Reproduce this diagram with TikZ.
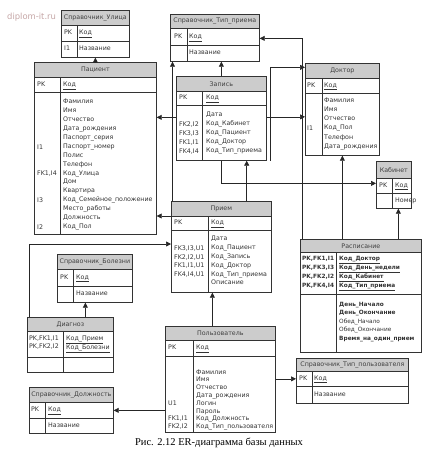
\documentclass[tikz,border=0pt]{standalone}
\usepackage{fontspec}
\setmainfont{Liberation Serif}
\newfontfamily\erfont{DejaVu Sans}
\usetikzlibrary{arrows.meta}
\newcommand{\erf}[1]{\erfont\fontsize{6.3}{#1}\selectfont}
\newcommand{\erb}[1]{\erfont\fontsize{5.8}{#1}\selectfont}
\newcommand{\er}{\erf{8.9}}
\tikzset{
  ent/.style={draw=black!80, line width=0.7pt, anchor=north west, inner sep=0pt, font=\er, text=black!75},
  hdr/.style={ent, fill=black!20},
  sep/.style={draw=black!80, line width=0.7pt},
  lbl/.style={anchor=west, inner sep=0pt, font=\er, text=black!80, text height=4.6pt, text depth=1.6pt},
  lst/.style={anchor=north west, inner sep=0pt, font=\er, text=black!80, align=left, execute at begin node=\strut},
  fk/.style={draw=black!85, line width=0.7pt, -{Triangle[length=5pt,width=5pt]}}
}
\begin{document}
\begin{tikzpicture}[x=1pt, y=-1pt]
\useasboundingbox (0,0) rectangle (437,460);
\node[text=red!35!black!35, font=\erfont\fontsize{8.4}{10}\selectfont, anchor=west, inner sep=0pt] (wm) at (7,17) {diplom-it.ru};

\node[hdr, minimum width=68, minimum height=15] (ulH) at (61,10) {Справочник\_Улица};
\node[ent, minimum width=68, minimum height=16] (ulK) at (61,25) {};
\node[ent, minimum width=68, minimum height=16] (ulA) at (61,41) {};
\draw[sep] (77,25) -- (77,57);
\node[lbl] (ulPK) at (64,33) {PK};
\node[lbl] (ulKod) at (79,33) {\underline{Код}};
\node[lbl] (ulI1) at (64,49.5) {I1};
\node[lbl] (ulName) at (79,49.5) {Название};

\node[hdr, minimum width=122, minimum height=15] (pacH) at (34,62) {Пациент};
\node[ent, minimum width=122, minimum height=15] (pacK) at (34,77) {};
\node[ent, minimum width=122, minimum height=142] (pacA) at (34,92) {};
\draw[sep] (60,77) -- (60,234);
\node[lbl] (pacPK) at (37,85) {PK};
\node[lbl] (pacKod) at (63,85) {\underline{Код}};
\node[lst] (pacList) at (63,99.1) {Фамилия\\Имя\\Отчество\\Дата\_рождения\\Паспорт\_серия\\Паспорт\_номер\\Полис\\Телефон\\Код\_Улица\\Дом\\Квартира\\Код\_Семейное\_положение\\Место\_работы\\Должность\\Код\_Пол};
\node[lbl] (pacI1) at (37,147.5) {I1};
\node[lbl] (pacFK1) at (37,174.2) {FK1,I4};
\node[lbl] (pacI3) at (37,200.9) {I3};
\node[lbl] (pacI2) at (37,227.6) {I2};

\node[hdr, minimum width=89, minimum height=14] (tpH) at (170,14) {Справочник\_Тип\_приема};
\node[ent, minimum width=89, minimum height=17] (tpK) at (170,28) {};
\node[ent, minimum width=89, minimum height=16] (tpA) at (170,45) {};
\draw[sep] (187,28) -- (187,61);
\node[lbl] (tpPK) at (174,37) {PK};
\node[lbl] (tpKod) at (189,37) {\underline{Код}};
\node[lbl] (tpName) at (189,53) {Название};

\node[hdr, minimum width=90, minimum height=15] (zapH) at (176,76) {Запись};
\node[ent, minimum width=90, minimum height=14] (zapK) at (176,91) {};
\node[ent, minimum width=90, minimum height=55] (zapA) at (176,105) {};
\draw[sep] (202,91) -- (202,160);
\node[lbl] (zapPK) at (179,98) {PK};
\node[lbl] (zapKod) at (206,98) {\underline{Код}};
\node[lst, font=\erf{9}] (zapList) at (206,112) {Дата\\Код\_Кабинет\\Код\_Пациент\\Код\_Доктор\\Код\_Тип\_приема};
\node[lbl] (zapFK2) at (179,125) {FK2,I2};
\node[lbl] (zapFK3) at (179,134) {FK3,I3};
\node[lbl] (zapFK1) at (179,143) {FK1,I1};
\node[lbl] (zapFK4) at (179,152) {FK4,I4};

\node[hdr, minimum width=74, minimum height=15] (docH) at (305,63) {Доктор};
\node[ent, minimum width=74, minimum height=15] (docK) at (305,78) {};
\node[ent, minimum width=74, minimum height=62] (docA) at (305,93) {};
\draw[sep] (322,78) -- (322,155);
\node[lbl] (docPK) at (307,85.5) {PK};
\node[lbl] (docKod) at (324,85.5) {\underline{Код}};
\node[lst, font=\erf{9.2}] (docList) at (324,97.6) {Фамилия\\Имя\\Отчество\\Код\_Пол\\Телефон\\Дата\_рождения};
\node[lbl] (docI1) at (307,129.3) {I1};

\node[hdr, minimum width=35, minimum height=17] (kabH) at (376,161) {Кабинет};
\node[ent, minimum width=35, minimum height=15] (kabK) at (376,178) {};
\node[ent, minimum width=35, minimum height=15] (kabA) at (376,193) {};
\draw[sep] (392,178) -- (392,208);
\node[lbl] (kabPK) at (379,185.5) {PK};
\node[lbl] (kabKod) at (395,185.5) {\underline{Код}};
\node[lbl] (kabNum) at (395,200.5) {Номер};

\node[hdr, minimum width=121, minimum height=13] (rasH) at (300,239) {Расписание};
\node[ent, minimum width=121, minimum height=42] (rasK) at (300,252) {};
\node[ent, minimum width=121, minimum height=58] (rasA) at (300,294) {};
\draw[sep] (336,252) -- (336,352);
\node[lst, font=\erb{9}\bfseries] (rasKeys) at (302,256.3) {PK,FK1,I1\\PK,FK3,I3\\PK,FK2,I2\\PK,FK4,I4};
\node[lst, font=\erb{9}\bfseries] (rasKList) at (339,256.3) {\underline{Код\_Доктор}\\\underline{Код\_День\_недели}\\\underline{Код\_Кабинет}\\\underline{Код\_Тип\_приема}};
\node[lst, font=\erb{8.5}] (rasList) at (339,301.7) {\textbf{День\_Начало}\\\textbf{День\_Окончание}\\Обед\_Начало\\Обед\_Окончание\\\textbf{Время\_на\_один\_прием}};

\node[hdr, minimum width=100, minimum height=15] (priH) at (171,201) {Прием};
\node[ent, minimum width=100, minimum height=14] (priK) at (171,216) {};
\node[ent, minimum width=100, minimum height=62] (priA) at (171,230) {};
\draw[sep] (208,216) -- (208,292);
\node[lbl] (priPK) at (174,223) {PK};
\node[lbl] (priKod) at (211,223) {\underline{Код}};
\node[lst, font=\erf{8.8}] (priList) at (211,236.1) {Дата\\Код\_Пациент\\Код\_Запись\\Код\_Доктор\\Код\_Тип\_приема\\Описание};
\node[lbl] (priFK3) at (174,248.8) {FK3,I3,U1};
\node[lbl] (priFK2) at (174,257.6) {FK2,I2,U1};
\node[lbl] (priFK1) at (174,266.4) {FK1,I1,U1};
\node[lbl] (priFK4) at (174,275.2) {FK4,I4,U1};

\node[hdr, minimum width=75, minimum height=15] (bolH) at (57,254) {Справочник\_Болезни};
\node[ent, minimum width=75, minimum height=17] (bolK) at (57,269) {};
\node[ent, minimum width=75, minimum height=16] (bolA) at (57,286) {};
\draw[sep] (73,269) -- (73,302);
\node[lbl] (bolPK) at (60,277.5) {PK};
\node[lbl] (bolKod) at (76,277.5) {\underline{Код}};
\node[lbl] (bolName) at (76,294) {Название};

\node[hdr, minimum width=86, minimum height=14] (diaH) at (27,317) {Диагноз};
\node[ent, minimum width=86, minimum height=26] (diaK) at (27,331) {};
\node[ent, minimum width=86, minimum height=15] (diaA) at (27,357) {};
\draw[sep] (63,331) -- (63,372);
\node[lst, font=\erf{8}] (diaKeys) at (29,335.7) {PK,FK1,I1\\PK,FK2,I2};
\node[lst, font=\erf{8}] (diaKList) at (66,335.7) {\underline{Код\_Прием}\\\underline{Код\_Болезни}};

\node[hdr, minimum width=110, minimum height=14] (polH) at (165,326) {Пользователь};
\node[ent, minimum width=110, minimum height=16] (polK) at (165,340) {};
\node[ent, minimum width=110, minimum height=76] (polA) at (165,356) {};
\draw[sep] (193,340) -- (193,432);
\node[lbl] (polPK) at (168,348) {PK};
\node[lbl] (polKod) at (196,348) {\underline{Код}};
\node[lst, font=\erf{7.8}] (polList) at (196,369.3) {Фамилия\\Имя\\Отчество\\Дата\_рождения\\Логин\\Пароль\\Код\_Должность\\Код\_Тип\_пользователя};
\node[lbl] (polU1) at (168,403.7) {U1};
\node[lbl] (polFK1) at (168,419.3) {FK1,I1};
\node[lbl] (polFK2) at (168,427.1) {FK2,I2};

\node[hdr, minimum width=112, minimum height=13] (tpuH) at (296,358) {Справочник\_Тип\_пользователя};
\node[ent, minimum width=112, minimum height=15] (tpuK) at (296,371) {};
\node[ent, minimum width=112, minimum height=17] (tpuA) at (296,386) {};
\draw[sep] (312,371) -- (312,403);
\node[lbl] (tpuPK) at (299,378.5) {PK};
\node[lbl] (tpuKod) at (314,378.5) {\underline{Код}};
\node[lbl] (tpuName) at (314,394.5) {Название};

\node[hdr, minimum width=84, minimum height=15] (dolH) at (29,387) {Справочник\_Должность};
\node[ent, minimum width=84, minimum height=16] (dolK) at (29,402) {};
\node[ent, minimum width=84, minimum height=15] (dolA) at (29,418) {};
\draw[sep] (45,402) -- (45,433);
\node[lbl] (dolPK) at (31,410) {PK};
\node[lbl] (dolKod) at (48,410) {\underline{Код}};
\node[lbl] (dolName) at (48,425.5) {Название};

\draw[fk] (pacH.north) -- (ulA.south);
\draw[fk] (zapH.north) -- (zapH.north |- tpA.south);
\draw[fk] ([xshift=1.5pt]priH.north west) -- ([xshift=1.5pt]priH.north west |- tpA.south);
\draw[fk] ([yshift=15.5pt]zapA.west) -- ([yshift=15.5pt]zapA.west -| pacA.east);
\draw[fk] (priK.north west) -- (priK.north west -| pacA.east);
\draw[fk] ([yshift=16pt]zapA.east) -- ([yshift=16pt]zapA.east -| docA.west);
\draw[fk] ([xshift=4pt]zapA.south east) |- ([yshift=3.5pt]docH.west);
\draw[fk] ([xshift=2pt]rasH.north west) |- ([yshift=-1.5pt]tpK.east);
\draw[fk] (docA.south |- rasH.north) -- (docA.south);
\draw[fk] ([xshift=4.5pt]kabA.south |- rasH.north) -- ([xshift=4.5pt]kabA.south);
\draw[fk] (zapA.south) |- ([yshift=2.5pt]kabK.west);
\draw[fk] ([xshift=-25pt]priH.north east) -- ([xshift=-25pt]priH.north east |- zapA.south);
\draw[fk] ([xshift=15pt]diaH.north) -- ([xshift=15pt]diaH.north |- bolA.south);
\draw[fk] ([xshift=2pt]diaH.north west) |- ([yshift=-14pt]priA.north west);
\draw[fk] ([xshift=-8pt]polH.north) -- ([xshift=-8pt]polH.north |- priA.south);
\draw[fk] (tpuK.west -| polA.east) -- (tpuK.west);
\draw[fk] (dolK.east -| polA.west) -- (dolK.east);

\node[font=\fontsize{10.5}{12}\selectfont, inner sep=0pt] (cap) at (219,443) {Рис. 2.12 ER-диаграмма базы данных};
\end{tikzpicture}
\end{document}
